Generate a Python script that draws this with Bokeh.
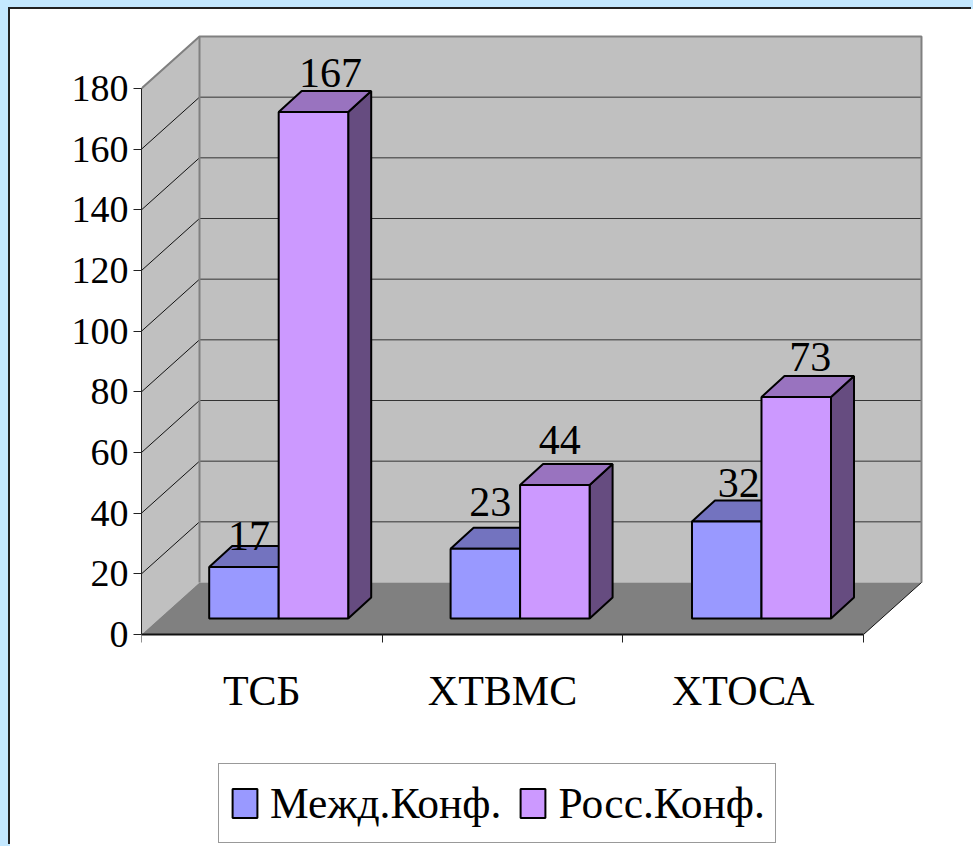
from bokeh.embed import file_html
from bokeh.layouts import column
from bokeh.resources import INLINE
from bokeh.core.properties import value
from bokeh.models import (ColumnDataSource, FixedTicker, Legend,
                          LegendItem, LinearAxis, Range1d)
from bokeh.plotting import figure

categories = ["ТСБ", "ХТВМС", "ХТОСА"]
intl_conf = [17, 23, 32]
russian_conf = [167, 44, 73]
y_ticks = [0, 20, 40, 60, 80, 100, 120, 140, 160, 180]
series_names = ["Межд.Конф.", "Росс.Конф."]

# Projection of the box: pixels per unit and the oblique depth, in data units
PX_X = 240.67
PX_Y = 546 / 180
WALL_DX = 58 / PX_X
WALL_DY = 52 / PX_Y
BAR_DX = 23 / PX_X
BAR_DY = 21 / PX_Y
BAR_BASE = 16 / PX_Y
BAR_LEFT = 67.7 / PX_X
BAR_STEP = 241.4 / PX_X
BAR_W = 69.5 / PX_X
Y_MAX = y_ticks[-1]

FONT = "Liberation Serif"

p = figure(width=963, height=837, output_backend="svg", toolbar_location=None,
           x_axis_type=None, y_axis_type=None,
           x_range=Range1d(0, 3 + WALL_DX + 4 / PX_X),
           y_range=Range1d(-212 / PX_Y, Y_MAX + WALL_DY + 4 / PX_Y),
           min_border_left=131, min_border_right=48,
           min_border_top=23, min_border_bottom=0,
           margin=(9, 0, 0, 10),
           styles={"box-shadow": "-2px -2px 0 0 #222222", "background-color": "white"})
p.grid.visible = False
p.outline_line_color = None
p.background_fill_color = None
p.border_fill_color = None

# Walls and floor of the 3D box
p.patch([0, WALL_DX, WALL_DX, 0], [0, WALL_DY, Y_MAX + WALL_DY, Y_MAX],
        fill_color="#C0C0C0", line_color=None)
p.patch([WALL_DX, 3 + WALL_DX, 3 + WALL_DX, WALL_DX],
        [WALL_DY, WALL_DY, Y_MAX + WALL_DY, Y_MAX + WALL_DY],
        fill_color="#C0C0C0", line_color=None)
p.patch([0, 3, 3 + WALL_DX, WALL_DX], [0, 0, WALL_DY, WALL_DY],
        fill_color="#808080", line_color=None)

# Gridlines across both walls
inner = y_ticks[1:-1]
p.segment(x0=[0] * len(inner), y0=inner, x1=[WALL_DX] * len(inner),
          y1=[v + WALL_DY for v in inner], line_color="#111111", line_width=1)
p.segment(x0=[WALL_DX] * len(inner), y0=[v + WALL_DY for v in inner],
          x1=[3 + WALL_DX] * len(inner), y1=[v + WALL_DY for v in inner],
          line_color="#333333", line_width=1)

# Grey edges of the walls
p.line([0, WALL_DX, 3 + WALL_DX, 3 + WALL_DX],
       [Y_MAX, Y_MAX + WALL_DY, Y_MAX + WALL_DY, WALL_DY],
       line_color="#808080", line_width=2)
p.line([WALL_DX, WALL_DX], [WALL_DY, Y_MAX + WALL_DY],
       line_color="#808080", line_width=2)
p.line([3, 3 + WALL_DX], [0, WALL_DY], line_color="#111111", line_width=1)


def bars(vals, shift, front, top, side):
    lefts = [i * BAR_STEP + BAR_LEFT + shift * BAR_W for i in range(len(vals))]
    rights = [x + BAR_W for x in lefts]
    tops = [BAR_BASE + v for v in vals]
    p.patches(
        [[r, r + BAR_DX, r + BAR_DX, r] for r in rights],
        [[BAR_BASE, BAR_BASE + BAR_DY, t + BAR_DY, t] for t in tops],
        fill_color=side, line_color="black", line_width=2)
    p.patches(
        [[l, l + BAR_DX, r + BAR_DX, r] for l, r in zip(lefts, rights)],
        [[t, t + BAR_DY, t + BAR_DY, t] for t in tops],
        fill_color=top, line_color="black", line_width=2)
    return p.quad(left=lefts, right=rights, bottom=[BAR_BASE] * len(vals), top=tops,
                  fill_color=front, line_color="black", line_width=2)


r_intl = bars(intl_conf, 0, "#9999FF", "#7373BF", "#4C4C80")
r_russian = bars(russian_conf, 1, "#CC99FF", "#9973BF", "#664C80")

# Value labels above the bars
label_x, label_y, label_txt = [], [], []
for i in range(len(categories)):
    label_x += [i * BAR_STEP + BAR_LEFT + 0.5 * BAR_W, i * BAR_STEP + BAR_LEFT + 1.5 * BAR_W]
    label_y += [BAR_BASE + intl_conf[i], BAR_BASE + russian_conf[i]]
    label_txt += [str(intl_conf[i]), str(russian_conf[i])]
nudge_x = [5, 17, 5, 5, 12, 14]
nudge_y = [-31, -39, -47, -45, -38, -40]
p.text(x="x", y="y", text="t", x_offset="dx", y_offset="dy",
       source=ColumnDataSource(dict(x=label_x, y=label_y, t=label_txt,
                                    dx=nudge_x, dy=nudge_y)),
       text_font=value(FONT), text_font_size="42px", text_color="black",
       text_align="center", text_baseline="alphabetic")

# Value axis
y_axis = LinearAxis(ticker=FixedTicker(ticks=y_ticks), bounds=(0, Y_MAX))
y_axis.axis_line_color = "#222222"
y_axis.major_tick_line_color = "#222222"
y_axis.major_tick_out = 8
y_axis.major_tick_in = 0
y_axis.minor_tick_line_color = None
y_axis.major_label_standoff = 5
y_axis.major_label_text_font = FONT
y_axis.major_label_text_font_size = "38px"
y_axis.major_label_text_color = "black"
p.add_layout(y_axis, "left")

# Category axis sits on the zero line: names centred in each band, ticks on the edges
x_axis = LinearAxis(ticker=FixedTicker(ticks=[0.5, 1.5, 2.5], minor_ticks=[0, 1, 2, 3]),
                    bounds=(0, 3), fixed_location=0)
x_axis.major_label_overrides = {i + 0.5: c for i, c in enumerate(categories)}
x_axis.axis_line_color = "#111111"
x_axis.axis_line_width = 2
x_axis.major_tick_line_color = None
x_axis.minor_tick_line_color = "#222222"
x_axis.minor_tick_out = 8
x_axis.minor_tick_in = 0
x_axis.major_label_standoff = 25
x_axis.major_label_text_font = FONT
x_axis.major_label_text_font_size = "42px"
x_axis.major_label_text_color = "black"
p.add_layout(x_axis, "below")

legend = Legend(items=[LegendItem(label=series_names[0], renderers=[r_intl]),
                       LegendItem(label=series_names[1], renderers=[r_russian])],
                orientation="horizontal", location=(77, 3),
                label_text_font=FONT, label_text_font_size="43.5px",
                label_text_color="black", label_standoff=10, label_height=58,
                glyph_width=31, glyph_height=36, spacing=16, padding=10, margin=0,
                border_line_color="#333333", border_line_width=1,
                background_fill_color="white", background_fill_alpha=1)
p.add_layout(legend, "center")

root = column(p, width=973, height=846, styles={"background-color": "#C4E8FF"})
open("out.html", "w").write(file_html(root, INLINE))
